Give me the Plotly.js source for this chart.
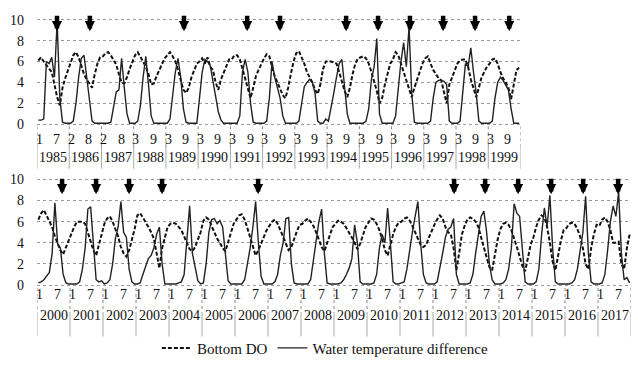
<!DOCTYPE html>
<html><head><meta charset="utf-8">
<script src="https://cdn.plot.ly/plotly-3.0.1.min.js"></script>
<style>html,body{margin:0;padding:0;background:#fff}#chart{width:638px;height:365px}</style>
</head><body><div id="chart"></div>
<script>
// ---- data ----
const yearsTop = [1985,1986,1987,1988,1989,1990,1991,1992,1993,1994,1995,1996,1997,1998,1999];
const yearsBottom = [2000,2001,2002,2003,2004,2005,2006,2007,2008,2009,2010,2011,2012,2013,2014,2015,2016,2017];
const firstMonthTop  = ['1','2','2','3','3','3','3','3','3','3','3','3','3','3','3'];
const secondMonthTop = ['7','8','8','9','9','9','9','9','9','9','9','9','9','9','9'];
const firstMonthBottom  = ['1','1','1','1','1','1','1','1','1','1','1','1','1','1','1','1','1','1'];
const secondMonthBottom = ['7','7','7','7','7','7','7','7','7','7','7','7','7','7','7','7','7','7'];

const doTop = [
6.1,6.4,6.0,5.7,5.4,5.0,3.8,2.6,1.8,3.5,4.4,5.2,
6.0,6.6,6.9,6.4,5.6,4.8,4.3,3.9,3.5,4.8,5.8,6.4,
6.5,6.8,6.9,6.6,6.2,5.7,4.8,4.0,3.9,4.5,5.3,6.0,
6.6,6.9,6.5,6.0,5.5,4.8,3.8,3.9,4.6,5.2,5.8,6.3,
6.6,6.9,6.5,6.0,5.2,4.2,3.3,3.0,3.5,4.5,5.2,5.8,
6.0,6.3,5.8,6.4,5.5,5.2,4.0,3.3,4.3,5.0,5.6,6.2,
6.2,6.6,6.6,6.2,5.3,4.4,3.5,2.5,3.5,4.6,5.2,5.8,
6.3,6.7,6.5,5.5,4.6,4.0,3.4,2.8,2.5,3.5,4.8,6.0,
6.8,7.0,6.4,5.8,5.0,4.5,4.0,3.3,2.9,3.8,5.3,6.0,
6.0,6.0,5.9,5.8,5.0,4.0,3.2,2.6,3.5,4.8,5.8,6.3,
6.4,6.5,6.3,5.8,5.0,4.2,3.2,2.0,2.5,3.8,4.8,5.8,
6.2,6.9,6.6,5.8,5.0,4.3,3.5,2.6,3.5,4.3,5.0,5.8,
6.3,6.5,5.8,5.2,4.8,4.4,4.2,3.0,2.0,3.8,4.5,5.3,
5.8,6.1,6.2,6.2,5.5,4.3,3.4,2.6,3.5,4.5,5.0,5.5,
5.8,6.2,6.3,5.8,5.0,4.4,4.0,3.5,2.4,3.8,5.2,5.4
];
const wtdTop = [
0.4,0.4,0.5,6.0,5.8,6.4,4.5,9.8,2.5,0.2,0.1,0.1,
0.1,0.3,2.0,4.5,6.3,6.6,4.5,2.0,0.3,0.1,0.1,0.1,
0.1,0.1,0.1,0.2,1.5,3.1,3.3,6.3,3.5,1.0,0.1,0.1,
0.1,0.3,1.8,4.5,6.5,3.8,0.8,0.1,0.1,0.1,0.1,0.1,
0.1,0.5,2.5,5.0,6.3,4.5,1.5,0.2,0.1,0.1,0.1,0.1,
2.5,5.0,6.2,6.0,5.6,4.0,2.5,1.2,0.4,0.1,0.1,0.1,
0.1,0.1,0.1,0.8,5.0,6.2,5.0,2.0,0.2,0.1,0.1,0.1,
0.1,0.3,2.5,6.0,4.5,3.5,2.5,0.8,0.1,0.1,0.1,0.1,
0.1,0.3,2.0,3.6,4.0,4.3,4.0,3.0,0.3,0.1,0.1,0.5,
0.3,1.5,3.0,4.5,5.8,6.2,3.5,1.0,0.1,0.1,0.1,0.1,
0.1,0.1,0.3,1.5,4.3,5.5,8.2,1.0,0.1,0.1,0.1,0.1,
0.1,0.8,3.5,6.0,7.8,5.5,9.3,3.0,0.2,0.1,0.1,0.1,
0.1,0.1,0.3,2.5,4.0,4.2,4.2,4.1,3.8,0.3,0.1,0.1,
0.1,0.3,3.5,5.8,5.5,7.3,5.0,3.0,0.3,0.1,0.1,0.1,
0.1,0.3,2.5,4.0,4.5,4.2,3.8,3.3,1.5,0.1,0.1,0.1
];
const doBottom = [
6.2,6.8,7.1,6.6,6.0,5.5,4.6,3.9,3.3,2.9,3.6,4.3,
4.8,5.5,6.0,6.0,6.0,5.8,5.0,4.0,3.3,2.8,3.8,4.9,
5.8,6.3,6.5,6.0,5.3,4.6,3.6,3.0,2.7,3.3,4.3,5.3,
6.6,6.8,6.4,6.0,5.5,5.0,4.4,3.0,1.6,3.5,4.6,5.5,
5.8,5.9,5.8,5.5,5.2,4.6,4.0,3.4,3.2,3.6,4.3,5.0,
6.1,6.4,6.2,5.6,5.0,4.4,4.0,3.5,3.2,4.0,5.0,5.8,
6.2,6.6,6.7,6.2,5.4,4.5,3.5,2.8,3.3,4.0,4.6,5.2,
5.6,6.0,6.2,5.8,5.2,4.6,3.9,3.3,3.6,4.4,5.1,5.7,
5.8,6.1,6.3,6.0,5.6,5.0,4.2,3.6,3.2,3.9,4.8,5.5,
5.8,6.1,6.0,5.8,5.4,5.0,4.5,4.0,3.4,3.9,4.8,5.5,
5.9,6.3,6.2,5.8,5.2,4.4,3.3,2.8,3.8,4.8,5.5,5.9,
6.0,6.3,6.4,6.1,5.6,5.0,4.4,3.8,3.6,3.8,4.5,5.2,
5.7,6.2,6.6,6.3,5.5,5.0,4.8,3.5,1.4,3.0,4.8,5.6,
6.2,6.4,6.3,6.0,5.5,4.5,3.5,2.6,1.7,1.4,3.0,4.3,
5.3,5.8,5.9,5.7,5.2,4.5,3.6,2.7,1.8,1.3,2.5,3.8,
4.5,5.5,6.2,6.6,6.4,5.5,4.0,2.2,1.4,2.8,4.2,5.2,
5.4,5.8,5.9,5.8,5.3,4.6,3.5,2.0,1.5,3.5,4.8,5.7,
5.6,6.2,6.4,6.0,5.2,4.0,4.0,4.1,2.0,1.5,3.5,4.8
];
const wtdBottom = [
0.2,0.3,0.5,0.8,1.2,3.0,7.8,3.9,3.5,1.0,0.2,0.1,
0.1,0.1,0.1,0.3,1.5,3.5,7.2,7.4,4.0,0.5,0.3,0.4,
0.1,0.2,0.5,2.0,4.4,5.5,7.9,5.0,4.5,1.5,0.3,0.1,
0.1,0.2,1.0,1.8,2.5,2.8,3.5,4.8,5.5,2.0,0.1,0.1,
0.1,0.1,0.1,0.2,0.3,1.0,4.5,7.5,3.0,1.5,0.4,0.1,
0.2,2.0,5.0,6.2,6.3,5.8,6.1,5.5,3.0,0.4,0.1,0.1,
0.1,0.1,0.1,0.5,2.0,3.5,5.5,7.9,4.0,0.8,0.1,0.1,
0.1,0.1,0.3,1.0,2.8,4.0,6.3,6.4,2.0,0.2,0.1,0.1,
0.1,0.1,0.1,0.5,2.5,4.5,6.0,7.2,3.0,0.2,0.1,0.1,
0.1,0.1,0.2,0.5,1.0,1.6,2.5,5.7,4.0,0.3,0.1,0.1,
0.1,0.1,0.2,1.0,3.5,4.8,4.0,7.3,4.0,0.3,0.1,0.1,
0.2,0.3,1.5,3.5,5.0,6.5,7.9,4.0,1.0,0.2,0.1,0.1,
0.1,0.3,1.5,3.0,4.5,5.3,5.5,6.3,1.0,0.1,0.1,0.1,
0.1,0.2,1.0,3.0,5.0,6.5,7.0,5.0,2.0,0.5,0.1,0.1,
0.1,0.2,0.5,1.5,3.5,7.7,6.8,6.5,3.0,0.3,0.1,0.1,
0.1,0.3,1.5,4.8,7.3,5.5,8.5,3.5,0.3,0.1,0.1,0.1,
0.1,0.1,0.2,0.5,1.5,3.5,5.0,8.4,3.0,0.3,0.1,0.1,
0.1,0.2,1.0,3.3,6.0,7.5,6.5,8.8,3.0,0.5,0.7,0.2
];
// hypoxia event markers (fractional year)
const arrowsTop = [1985.62,1986.64,1989.56,1991.52,1992.54,1994.59,1995.58,1996.57,1997.60,1998.59,1999.65];
const arrowsBottom = [2000.76,2001.79,2002.79,2003.79,2006.70,2012.64,2013.58,2014.58,2015.58,2016.55,2017.61];
const yTicks = [0,2,4,6,8,10];

// ---- build ----
const W = 638, H = 365;
const py = p => 1 - p / H;
function xsFor(years){ const xs=[]; years.forEach(y=>{ for(let m=0;m<12;m++) xs.push(y+(m+0.5)/12); }); return xs; }
const xTop = xsFor(yearsTop), xBot = xsFor(yearsBottom);
const FONT = 'Liberation Serif, Times New Roman, serif';
const tfont = {size:14, family:FONT, color:'#111'};

const dashLine = {color:'#111', width:2, dash:'4px,2px'};
const solidLine = {color:'#222', width:1.4};
const traces = [
 {x:xTop, y:doTop, type:'scatter', mode:'lines', name:'Bottom DO', line:dashLine, xaxis:'x', yaxis:'y', legendgroup:'do'},
 {x:xTop, y:wtdTop, type:'scatter', mode:'lines', name:'Water temperature difference', line:solidLine, xaxis:'x', yaxis:'y', legendgroup:'wt'},
 {x:xBot, y:doBottom, type:'scatter', mode:'lines', name:'Bottom DO', line:dashLine, xaxis:'x2', yaxis:'y2', legendgroup:'do', showlegend:false},
 {x:xBot, y:wtdBottom, type:'scatter', mode:'lines', name:'Water temperature difference', line:solidLine, xaxis:'x2', yaxis:'y2', legendgroup:'wt', showlegend:false}
];

const annotations = [];
function addMonthLabels(xref, years, first, second, yPix){
  years.forEach((y,i)=>{
    annotations.push({xref, yref:'paper', x:y+0.07, y:py(yPix), text:first[i], showarrow:false, font:tfont, borderpad:0});
    annotations.push({xref, yref:'paper', x:y+0.61, y:py(yPix), text:second[i], showarrow:false, font:tfont, borderpad:0});
  });
}
addMonthLabels('x', yearsTop, firstMonthTop, secondMonthTop, 141);
addMonthLabels('x2', yearsBottom, firstMonthBottom, secondMonthBottom, 307);
yearsTop.forEach(y=>annotations.push({xref:'x', yref:'paper', x:y+0.5, y:py(160), text:String(y), showarrow:false, font:tfont, borderpad:0}));
yearsBottom.forEach(y=>annotations.push({xref:'x2', yref:'paper', x:y+0.5, y:py(329), text:String(y), showarrow:false, font:tfont, borderpad:0}));
const arrowStyle = {ax:0, ay:-17, text:'', showarrow:true, arrowhead:2, arrowsize:0.45, arrowwidth:4.5, arrowcolor:'#000'};
arrowsTop.forEach(x=>annotations.push(Object.assign({xref:'x', yref:'y', x:x, y:8.9}, arrowStyle)));
arrowsBottom.forEach(x=>annotations.push(Object.assign({xref:'x2', yref:'y2', x:x, y:8.6}, arrowStyle)));

const shapes = [];
const topBounds = yearsTop.concat([yearsTop[yearsTop.length-1]+1]);
const botBounds = yearsBottom.concat([yearsBottom[yearsBottom.length-1]+1]);
topBounds.forEach(y=>{
  shapes.push({type:'line', xref:'x', yref:'paper', x0:y, x1:y, y0:py(128), y1:py(149), line:{color:'#888', width:1, dash:'dot'}});
  shapes.push({type:'line', xref:'x', yref:'paper', x0:y, x1:y, y0:py(149), y1:py(171), line:{color:'#aaa', width:1}});
});
botBounds.forEach(y=>{
  shapes.push({type:'line', xref:'x2', yref:'paper', x0:y, x1:y, y0:py(292), y1:py(317), line:{color:'#888', width:1, dash:'dot'}});
  shapes.push({type:'line', xref:'x2', yref:'paper', x0:y, x1:y, y0:py(317), y1:py(341), line:{color:'#aaa', width:1}});
});

const xCommon = {showticklabels:false, ticks:'', showgrid:false, zeroline:false, showline:false, fixedrange:true};
const yCommon = {tickvals:yTicks, ticktext:yTicks.map(String), range:[-0.3,10.8], showgrid:true, gridcolor:'#999', griddash:'dot', gridwidth:1, zeroline:false, showline:false, ticks:'', tickfont:tfont, ticklabelstandoff:12};

const layout = {
  width:W, height:H, margin:{l:0,r:0,t:0,b:0}, paper_bgcolor:'#fff', plot_bgcolor:'rgba(0,0,0,0)',
  font:{family:FONT, size:14, color:'#111'},
  xaxis:Object.assign({}, xCommon, {domain:[37/W, 520.5/W], range:[1985,2000], anchor:'y'}),
  yaxis:Object.assign({}, yCommon, {domain:[py(129.2), py(11.5)], anchor:'x'}),
  xaxis2:Object.assign({}, xCommon, {domain:[37/W, 631/W], range:[2000,2018], anchor:'y2'}),
  yaxis2:Object.assign({}, yCommon, {domain:[py(292.2), py(173.4)], anchor:'x2'}),
  showlegend:true,
  legend:{orientation:'h', x:0.51, xanchor:'center', y:py(353), yanchor:'middle', font:{size:15, family:FONT, color:'#111'}, itemwidth:30, bgcolor:'rgba(0,0,0,0)'},
  annotations, shapes
};
Plotly.newPlot('chart', traces, layout, {staticPlot:true, displayModeBar:false});
</script></body></html>
